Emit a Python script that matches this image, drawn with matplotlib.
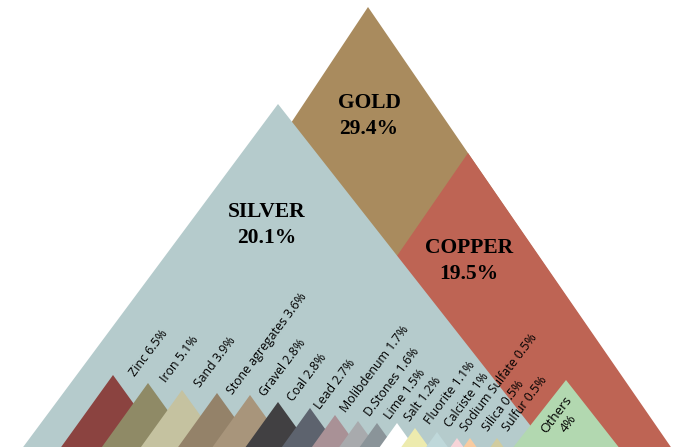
import matplotlib.pyplot as plt
from matplotlib.patches import Polygon

# main metals
big_names = ["GOLD", "COPPER", "SILVER"]
big_values = [29.4, 19.5, 20.1]
big_colors = ["#A98B5E", "#BE6454", "#B5CBCC"]

# smaller minerals, left to right
names = ["Zinc", "Iron", "Sand", "Stone agregates", "Gravel", "Coal", "Lead",
         "Molibdenum", "D.Stones", "Lime", "Salt", "Fluorite", "Calciste",
         "Sodium Sulfate", "Silica", "Sulfur"]
values = [6.5, 5.1, 3.9, 3.6, 2.8, 2.8, 2.7, 1.7, 1.6, 1.5, 1.2, 1.1, 1.0,
          0.5, 0.5, 0.5]
colors = ["#8B4340", "#8F8A66", "#C5C2A0", "#948269", "#A8957B", "#414042",
          "#5D636E", "#A99196", "#A8AAAD", "#8A9499", "#FFFFFF", "#EDEBAE",
          "#BFD8DA", "#F7D4D8", "#F8CBA0", "#D1CC9F"]
others_value = 4
others_color = "#B2D8B0"

# layout (pixel-like units, y grows downwards, base of every peak at the bottom)
W, H = 686, 447
big_x = [368, 468, 278]
big_h = [440, 294, 343]
big_sl = [0.664, 0.69, 0.743]
big_sr = [0.685, 0.69, 0.785]
big_lab = [(369, 108), (469, 253), (267, 217)]

peak_x = [113, 148, 182, 217, 250, 278, 310, 335, 358, 377, 397, 415, 437,
          457, 470, 497]
peak_h = [72, 64, 57, 54, 52, 45, 39, 32, 26, 24, 24, 19, 15, 9, 9, 9]
slope = 0.72
lab_x = [135, 166, 200, 233, 265, 293, 320, 346, 370, 390, 410, 430, 450,
         466, 488, 508]
lab_y = [377, 383, 388, 395, 397, 402, 410, 413, 417, 420, 422, 425, 428,
         432, 432, 432]
others_x, others_h, others_s = 566, 67, 0.785


def peak(ax, x, h, sl, sr, col):
	pts = [(x - sl*h, H), (x, H - h), (x + sr*h, H)]
	ax.add_patch(Polygon(pts, closed=True, facecolor=col, edgecolor='none'))


fig = plt.figure(figsize=(6.86, 4.47), dpi=100)
ax = fig.add_axes([0, 0, 1, 1])
ax.set_xlim(0, W)
ax.set_ylim(H, 0)
ax.axis('off')

for i in range(len(big_names)):
	peak(ax, big_x[i], big_h[i], big_sl[i], big_sr[i], big_colors[i])

for i in range(len(big_names)):
	lx, ly = big_lab[i]
	ax.text(lx, ly, big_names[i], ha='center', va='baseline',
	        family='Liberation Serif', weight='bold', fontsize=15.5)
	ax.text(lx, ly + 26, "%.1f%%" % big_values[i], ha='center', va='baseline',
	        family='Liberation Serif', weight='bold', fontsize=15.5)

for i in range(len(names)):
	peak(ax, peak_x[i], peak_h[i], slope, slope, colors[i])

peak(ax, others_x, others_h, others_s, others_s, others_color)

for i in range(len(names)):
	v = values[i]
	txt = "%s %s%%" % (names[i], ("%g" % v))
	ax.text(lab_x[i], lab_y[i], txt, rotation=53, rotation_mode='anchor',
	        ha='left', va='baseline', family='Open Sans', fontsize=8.9,
	        color='black')

ax.text(562, 419, "Others\n%g%%" % others_value, rotation=53,
        rotation_mode='anchor', ha='center', va='center', multialignment='center',
        family='Open Sans', fontsize=9.6, color='black', linespacing=1.25)

fig.savefig("out.png", dpi=100)
